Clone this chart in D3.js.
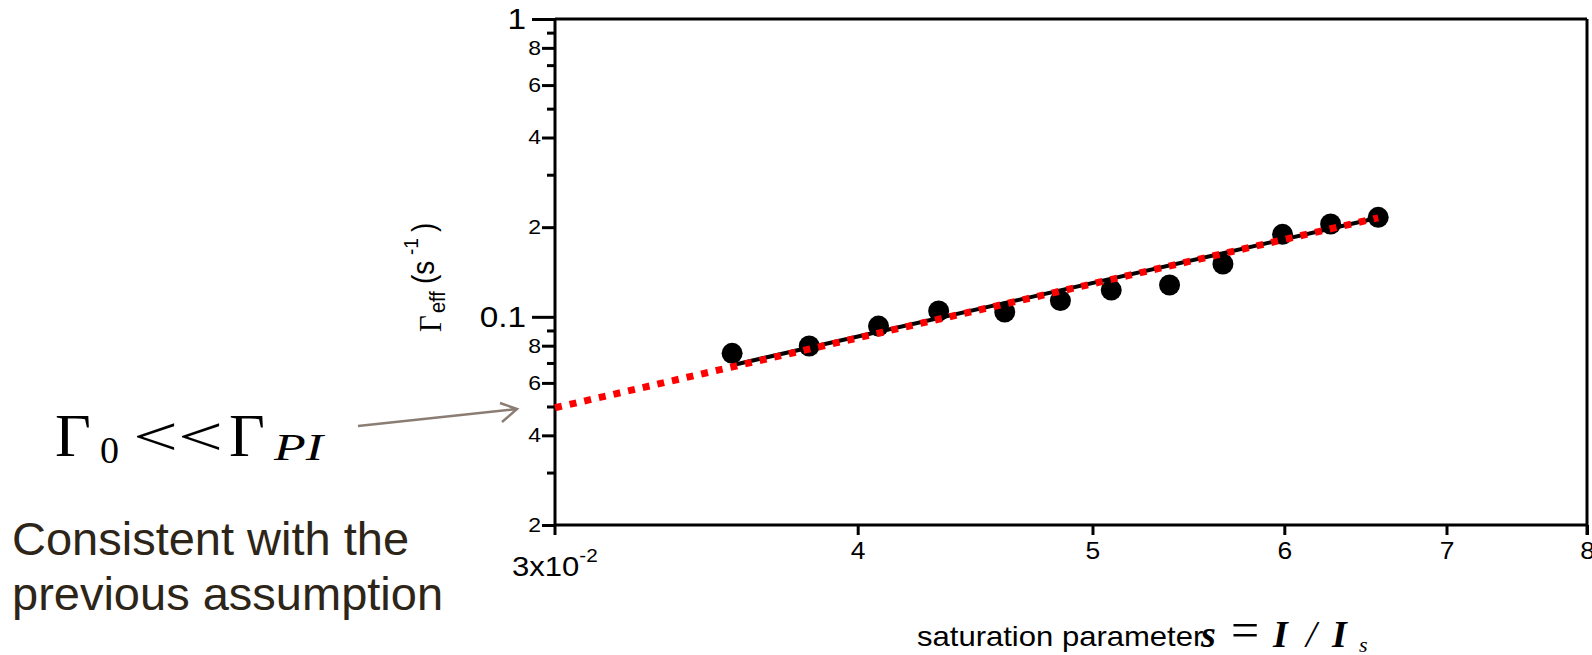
<!DOCTYPE html>
<html>
<head>
<meta charset="utf-8">
<script src="https://cdn.jsdelivr.net/npm/d3@7"></script>
<style>
  body { margin: 0; background: #fff; }
  svg { display: block; }
</style>
</head>
<body>
<div id="chart"></div>
<script>
// measured points: saturation parameter s vs effective rate (1/s)
var sParam   = [0.0355, 0.0382, 0.0408, 0.0432, 0.0460, 0.0485, 0.0509, 0.0538, 0.0566, 0.0599, 0.0627, 0.0656];
var gammaEff = [0.0754, 0.0798, 0.0931, 0.1046, 0.1038, 0.1134, 0.1230, 0.1279, 0.1504, 0.1892, 0.2049, 0.2158];

// power-law fit (black) and its extrapolation (red dotted)
var fitS = [0.0355, 0.0656];
var fitG = [0.0688, 0.2150];
var extS = [0.0300, 0.0656];
var extG = [0.0495, 0.2150];

var xTickVals   = [0.04, 0.05, 0.06, 0.07, 0.08];
var xTickLabels = ["4", "5", "6", "7", "8"];
var yMajor       = [1, 0.1];
var yMajorLabels = ["1", "0.1"];
var yMinorVals   = [0.8, 0.6, 0.4, 0.2, 0.08, 0.06, 0.04, 0.02];
var yMinorLabels = ["8", "6", "4", "2", "8", "6", "4", "2"];
var yMinorPlain  = [0.9, 0.7, 0.5, 0.3, 0.09, 0.07, 0.05, 0.03];

var W = 1592, H = 655;
var sans = "'Liberation Sans', Arial, Helvetica, sans-serif";
var serif = "'Liberation Serif', 'Times New Roman', serif";
var stretch = 1.15; // chart text is a bit wide in the original

var svg = d3.select("#chart").append("svg")
  .attr("width", W).attr("height", H)
  .style("background", "#fff");

var x = d3.scaleLog().domain([0.03, 0.08]).range([555, 1587]);
var y = d3.scaleLog().domain([0.02, 1]).range([525, 19]);

function stretchText(g) {
  g.selectAll("text").each(function() {
    var t = d3.select(this);
    t.attr("x", (+t.attr("x") || 0) / stretch).attr("transform", "scale(" + stretch + ",1)");
  });
}

// frame lines
var frame = svg.append("g").attr("stroke", "#000").attr("stroke-width", 3).attr("fill", "none");
frame.append("line").attr("x1", x(0.03)).attr("x2", x(0.03)).attr("y1", y(1)).attr("y2", y(0.02) + 10);
frame.append("line").attr("x1", x(0.08)).attr("x2", x(0.08)).attr("y1", y(1)).attr("y2", y(0.02) + 10);
frame.append("line").attr("x1", x(0.03)).attr("x2", x(0.08)).attr("y1", y(1)).attr("y2", y(1));
frame.append("line").attr("x1", x(0.03)).attr("x2", x(0.08)).attr("y1", y(0.02)).attr("y2", y(0.02));

// y axis: majors, labelled minors, plain minors
var gyMaj = svg.append("g").attr("transform", "translate(" + x(0.03) + ",0)")
  .call(d3.axisLeft(y).tickValues(yMajor).tickSize(23).tickSizeOuter(0).tickPadding(6)
    .tickFormat(function(d, i) { return yMajorLabels[i]; }));
var gyMin = svg.append("g").attr("transform", "translate(" + x(0.03) + ",0)")
  .call(d3.axisLeft(y).tickValues(yMinorVals).tickSize(13).tickSizeOuter(0).tickPadding(1)
    .tickFormat(function(d, i) { return yMinorLabels[i]; }));
var gyPl = svg.append("g").attr("transform", "translate(" + x(0.03) + ",0)")
  .call(d3.axisLeft(y).tickValues(yMinorPlain).tickSize(8).tickSizeOuter(0).tickFormat(""));

var gx = svg.append("g").attr("transform", "translate(0," + y(0.02) + ")")
  .call(d3.axisBottom(x).tickValues(xTickVals).tickSize(10).tickSizeOuter(0).tickPadding(8)
    .tickFormat(function(d, i) { return xTickLabels[i]; }));

[gyMaj, gyMin, gyPl, gx].forEach(function(g) {
  g.select(".domain").remove();
  g.selectAll("line").attr("stroke", "#000").attr("stroke-width", 3);
  g.selectAll("text").attr("fill", "#000").style("font-family", sans);
  stretchText(g);
});
gyMaj.selectAll("text").style("font-size", "29px");
gyMin.selectAll("text").style("font-size", "20px");
gx.selectAll("text").style("font-size", "23px");

// origin label 3x10^-2
var orig = svg.append("text")
  .attr("transform", "translate(512,576) scale(" + stretch + ",1)")
  .style("font-family", sans).style("font-size", "27px").attr("fill", "#000");
orig.append("tspan").text("3x10");
orig.append("tspan").attr("dy", -14).style("font-size", "18px").text("-2");

// data
var line = d3.line().x(function(d) { return x(d[0]); }).y(function(d) { return y(d[1]); });

svg.append("path").datum(d3.zip(fitS, fitG)).attr("d", line)
  .attr("fill", "none").attr("stroke", "#000").attr("stroke-width", 4);

svg.append("g").selectAll("circle")
  .data(d3.zip(sParam, gammaEff))
  .enter()
  .append("circle")
  .attr("cx", function(d) { return x(d[0]); })
  .attr("cy", function(d) { return y(d[1]); })
  .attr("r", 10.5)
  .attr("fill", "#000");

svg.append("path").datum(d3.zip(extS, extG)).attr("d", line)
  .attr("fill", "none").attr("stroke", "#ff0000").attr("stroke-width", 7)
  .attr("stroke-dasharray", "7,8");

// y title: Gamma_eff (s^-1)
var yt = svg.append("text")
  .attr("transform", "translate(441,332) scale(1.1,1) rotate(-90)")
  .attr("fill", "#000");
yt.append("tspan").attr("x", 0).attr("y", 0).style("font-family", serif).style("font-size", "29px").text("Γ");
yt.append("tspan").attr("x", 19).attr("y", 4).style("font-family", sans).style("font-size", "20px").text("eff");
yt.append("tspan").attr("x", 48).attr("y", -6).style("font-family", sans).style("font-size", "28px").text("(s");
yt.append("tspan").attr("x", 77).attr("y", -21).style("font-family", sans).style("font-size", "19px").text("-1");
yt.append("tspan").attr("x", 100).attr("y", -6).style("font-family", sans).style("font-size", "28px").text(")");

// x title
svg.append("text")
  .attr("transform", "translate(917,646) scale(" + stretch + ",1)")
  .style("font-family", sans).style("font-size", "27px").attr("fill", "#000")
  .text("saturation parameter");
var eq = svg.append("text").style("font-family", serif).attr("fill", "#000")
  .style("font-weight", "bold").style("font-style", "italic").style("font-size", "38px");
eq.append("tspan").attr("x", 1201).attr("y", 647).text("s");
eq.append("tspan").attr("x", 1231).attr("y", 647).style("font-style", "normal").style("font-weight", "normal")
  .style("font-size", "50px").text("=");
eq.append("tspan").attr("x", 1273).attr("y", 647).text("I");
eq.append("tspan").attr("x", 1306).attr("y", 647).style("font-weight", "normal").text("/");
eq.append("tspan").attr("x", 1332).attr("y", 647).text("I");
eq.append("tspan").attr("x", 1359).attr("y", 652).style("font-weight", "normal").style("font-size", "22px").text("s");

// annotation  Γ0 << ΓPI
var ann = svg.append("text").style("font-family", serif).attr("fill", "#000").style("font-size", "62px");
ann.append("tspan").attr("x", 55).attr("y", 456).text("Γ");
ann.append("tspan").attr("x", 100).attr("y", 463).style("font-size", "38px").text("0");
ann.append("tspan").attr("x", 133).attr("y", 455).style("font-size", "54px")
  .attr("textLength", 90).attr("lengthAdjust", "spacingAndGlyphs").text("<<");
ann.append("tspan").attr("x", 229).attr("y", 456).text("Γ");
ann.append("tspan").attr("x", 274).attr("y", 460).style("font-size", "38px").style("font-style", "italic")
  .attr("textLength", 49).attr("lengthAdjust", "spacingAndGlyphs").text("PI");

svg.append("path")
  .attr("d", "M358,426 L517,409 M500,403 L517,409 L502,422")
  .attr("fill", "none").attr("stroke", "#8b7d73").attr("stroke-width", 2.5);

var cons = svg.append("text").style("font-family", sans).style("font-size", "47px").attr("fill", "#2e2519");
cons.append("tspan").attr("x", 12).attr("y", 555).text("Consistent with the");
cons.append("tspan").attr("x", 12).attr("y", 610).text("previous assumption");
</script>
</body>
</html>
